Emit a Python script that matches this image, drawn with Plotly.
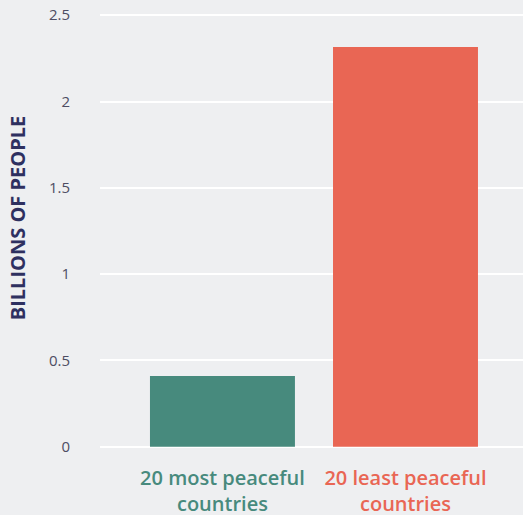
import plotly.graph_objects as go

categories = ["20 most peaceful<br>countries", "20 least peaceful<br>countries"]
population_bn = [0.41, 2.315]
bar_colors = ["#478A7D", "#E96654"]
y_ticks = [0, 0.5, 1, 1.5, 2, 2.5]
y_tick_labels = ["0", "0.5", "1", "1.5", "2", "2.5"]

ticktext = [f'<span style="color:{c}">{t}</span>' for t, c in zip(categories, bar_colors)]

fig = go.Figure()
fig.add_trace(go.Bar(
    x=[0, 1],
    y=population_bn,
    width=0.792,
    marker_color=bar_colors,
    marker_line_width=0,
    hoverinfo="skip",
))

# axis title placed as a rotated annotation so it sits where the original does
fig.add_annotation(
    text="BILLIONS OF PEOPLE",
    textangle=-90,
    xref="paper", yref="paper",
    x=-0.196, y=0.529,
    xanchor="center", yanchor="middle",
    showarrow=False,
    font=dict(size=20, color="#2E3060", weight=700),
)

fig.update_layout(
    width=523, height=515,
    margin=dict(l=100, r=0, t=10, b=63),
    paper_bgcolor="#EEEFF1",
    plot_bgcolor="#EEEFF1",
    showlegend=False,
    font=dict(family="Open Sans", color="#4D4D63"),
    xaxis=dict(
        range=[-0.669, 1.642],
        tickvals=[0, 1],
        ticktext=ticktext,
        showgrid=False,
        zeroline=False,
        ticks="",
        ticklabelstandoff=12,
        tickfont=dict(size=20, weight=600),
        automargin=False,
        fixedrange=True,
    ),
    yaxis=dict(
        range=[-0.03, 2.53],
        tickvals=y_ticks,
        ticktext=y_tick_labels,
        showgrid=True,
        gridcolor="white",
        gridwidth=2,
        zeroline=False,
        ticks="",
        ticklabelstandoff=29,
        tickfont=dict(size=15, color="#4D4D63"),
        automargin=False,
        fixedrange=True,
    ),
)

fig.write_html("out.html", config={"displayModeBar": False},
               post_script="document.body.style.margin='0';")
